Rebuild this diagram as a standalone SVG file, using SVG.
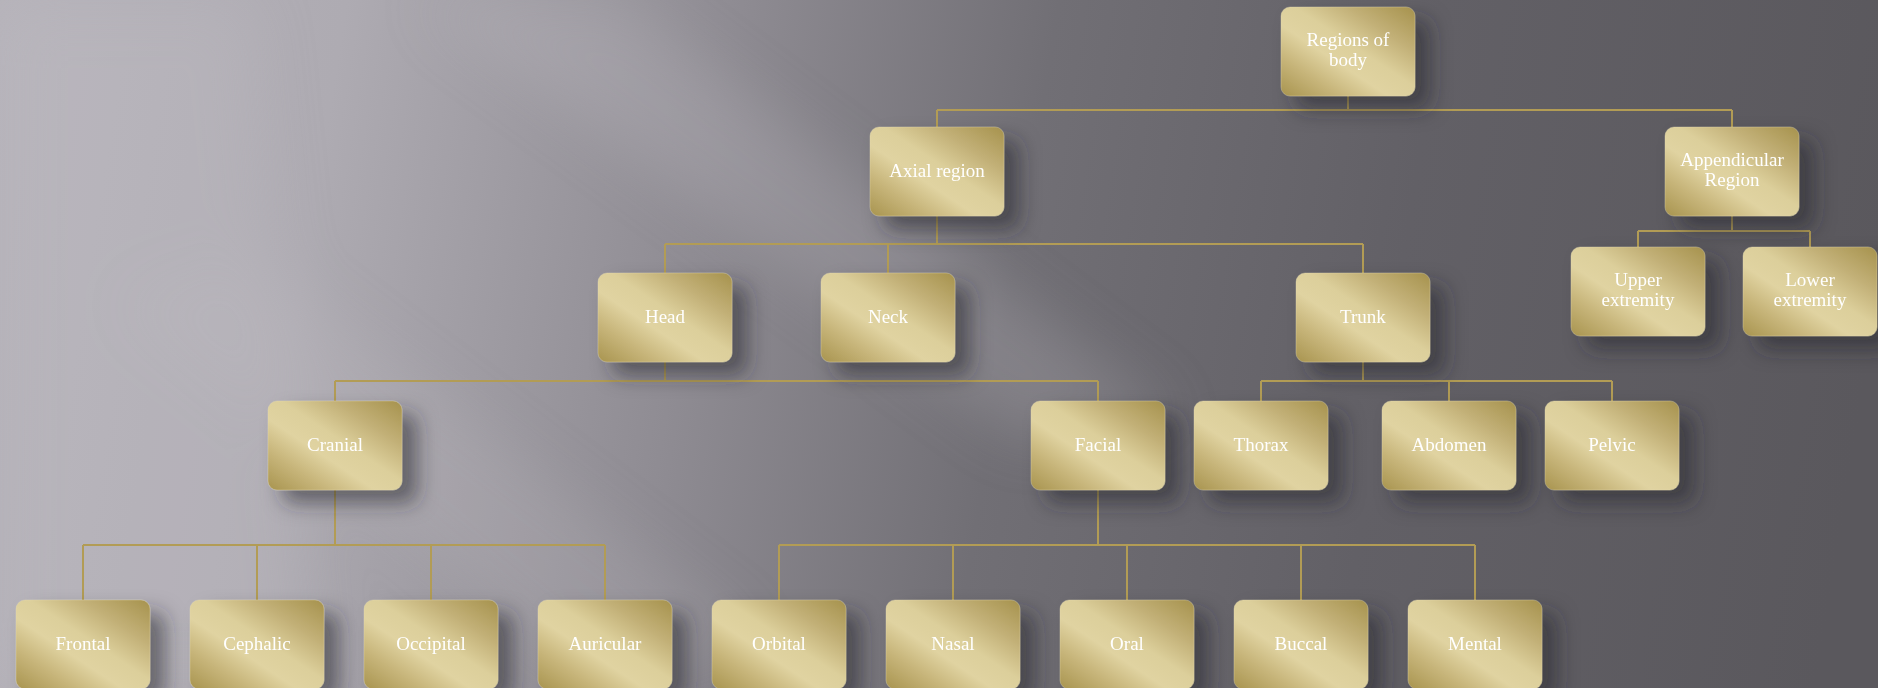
<svg xmlns="http://www.w3.org/2000/svg" width="1878" height="688" viewBox="0 0 1878 688">
<defs>
<linearGradient id="bg" x1="0" y1="0" x2="1878" y2="300" gradientUnits="userSpaceOnUse">
<stop offset="0" stop-color="#b6b3ba"/>
<stop offset="0.18" stop-color="#aeabb2"/>
<stop offset="0.38" stop-color="#8f8c93"/>
<stop offset="0.55" stop-color="#716f75"/>
<stop offset="0.75" stop-color="#626066"/>
<stop offset="1" stop-color="#5a585d"/>
</linearGradient>
<linearGradient id="gold" x1="0" y1="1" x2="1" y2="0">
<stop offset="0" stop-color="#a8944f"/>
<stop offset="0.22" stop-color="#c7b57a"/>
<stop offset="0.4" stop-color="#e0d3a1"/>
<stop offset="0.55" stop-color="#dccf9b"/>
<stop offset="0.75" stop-color="#c2b077"/>
<stop offset="1" stop-color="#a6924d"/>
</linearGradient>
<filter id="sh" x="-30%" y="-30%" width="180%" height="180%">
<feDropShadow dx="15" dy="13" stdDeviation="10" flood-color="#2b2a30" flood-opacity="0.55"/>
</filter>
<filter id="blur" x="-50%" y="-50%" width="200%" height="200%">
<feGaussianBlur stdDeviation="30"/>
</filter>
<style>
.box{fill:url(#gold);stroke:#e6dcb2;stroke-opacity:0.35;stroke-width:1;filter:url(#sh)}
.t{font-family:"Liberation Serif","Times New Roman",serif;font-size:19px;fill:#ffffff;text-anchor:middle}
.c{fill:none;stroke:#b29c55;stroke-width:2}
</style>
</defs>
<rect x="0" y="0" width="1878" height="688" fill="url(#bg)"/>
<g filter="url(#blur)" opacity="0.5">
<polygon points="420,0 620,0 1180,420 1020,440" fill="#c8c5cc" opacity="0.45"/>
<polygon points="120,300 260,260 760,640 600,688" fill="#c8c5cc" opacity="0.35"/>
<polygon points="0,0 250,0 320,688 0,688" fill="#c4c1c8" opacity="0.5"/>
</g>

<g id="connectors">
<path class="c" d="M1348,96 V110 M937,110 H1732 M937,110 V127 M1732,110 V127"/>
<path class="c" d="M937,216 V244 M665,244 H1363 M665,244 V273 M888,244 V273 M1363,244 V273"/>
<path class="c" d="M1732,216 V231 M1638,231 H1810 M1638,231 V247 M1810,231 V247"/>
<path class="c" d="M665,362 V381 M335,381 H1098 M335,381 V401 M1098,381 V401"/>
<path class="c" d="M1363,362 V381 M1261,381 H1612 M1261,381 V401 M1449,381 V401 M1612,381 V401"/>
<path class="c" d="M335,490 V545 M83,545 H605 M83,545 V600 M257,545 V600 M431,545 V600 M605,545 V600"/>
<path class="c" d="M1098,490 V545 M779,545 H1475 M779,545 V600 M953,545 V600 M1127,545 V600 M1301,545 V600 M1475,545 V600"/>
</g>

<g id="n-regions"><rect class="box" x="1281" y="7" width="134" height="89" rx="9"/><text class="t" x="1348" y="46">Regions of</text><text class="t" x="1348" y="66">body</text></g>
<g id="n-axial"><rect class="box" x="870" y="127" width="134" height="89" rx="9"/><text class="t" x="937" y="177">Axial region</text></g>
<g id="n-appendicular"><rect class="box" x="1665" y="127" width="134" height="89" rx="9"/><text class="t" x="1732" y="166">Appendicular</text><text class="t" x="1732" y="186">Region</text></g>
<g id="n-head"><rect class="box" x="598" y="273" width="134" height="89" rx="9"/><text class="t" x="665" y="323">Head</text></g>
<g id="n-neck"><rect class="box" x="821" y="273" width="134" height="89" rx="9"/><text class="t" x="888" y="323">Neck</text></g>
<g id="n-trunk"><rect class="box" x="1296" y="273" width="134" height="89" rx="9"/><text class="t" x="1363" y="323">Trunk</text></g>
<g id="n-upper"><rect class="box" x="1571" y="247" width="134" height="89" rx="9"/><text class="t" x="1638" y="286">Upper</text><text class="t" x="1638" y="306">extremity</text></g>
<g id="n-lower"><rect class="box" x="1743" y="247" width="134" height="89" rx="9"/><text class="t" x="1810" y="286">Lower</text><text class="t" x="1810" y="306">extremity</text></g>
<g id="n-cranial"><rect class="box" x="268" y="401" width="134" height="89" rx="9"/><text class="t" x="335" y="451">Cranial</text></g>
<g id="n-facial"><rect class="box" x="1031" y="401" width="134" height="89" rx="9"/><text class="t" x="1098" y="451">Facial</text></g>
<g id="n-thorax"><rect class="box" x="1194" y="401" width="134" height="89" rx="9"/><text class="t" x="1261" y="451">Thorax</text></g>
<g id="n-abdomen"><rect class="box" x="1382" y="401" width="134" height="89" rx="9"/><text class="t" x="1449" y="451">Abdomen</text></g>
<g id="n-pelvic"><rect class="box" x="1545" y="401" width="134" height="89" rx="9"/><text class="t" x="1612" y="451">Pelvic</text></g>
<g id="n-frontal"><rect class="box" x="16" y="600" width="134" height="89" rx="9"/><text class="t" x="83" y="650">Frontal</text></g>
<g id="n-cephalic"><rect class="box" x="190" y="600" width="134" height="89" rx="9"/><text class="t" x="257" y="650">Cephalic</text></g>
<g id="n-occipital"><rect class="box" x="364" y="600" width="134" height="89" rx="9"/><text class="t" x="431" y="650">Occipital</text></g>
<g id="n-auricular"><rect class="box" x="538" y="600" width="134" height="89" rx="9"/><text class="t" x="605" y="650">Auricular</text></g>
<g id="n-orbital"><rect class="box" x="712" y="600" width="134" height="89" rx="9"/><text class="t" x="779" y="650">Orbital</text></g>
<g id="n-nasal"><rect class="box" x="886" y="600" width="134" height="89" rx="9"/><text class="t" x="953" y="650">Nasal</text></g>
<g id="n-oral"><rect class="box" x="1060" y="600" width="134" height="89" rx="9"/><text class="t" x="1127" y="650">Oral</text></g>
<g id="n-buccal"><rect class="box" x="1234" y="600" width="134" height="89" rx="9"/><text class="t" x="1301" y="650">Buccal</text></g>
<g id="n-mental"><rect class="box" x="1408" y="600" width="134" height="89" rx="9"/><text class="t" x="1475" y="650">Mental</text></g>
</svg>
